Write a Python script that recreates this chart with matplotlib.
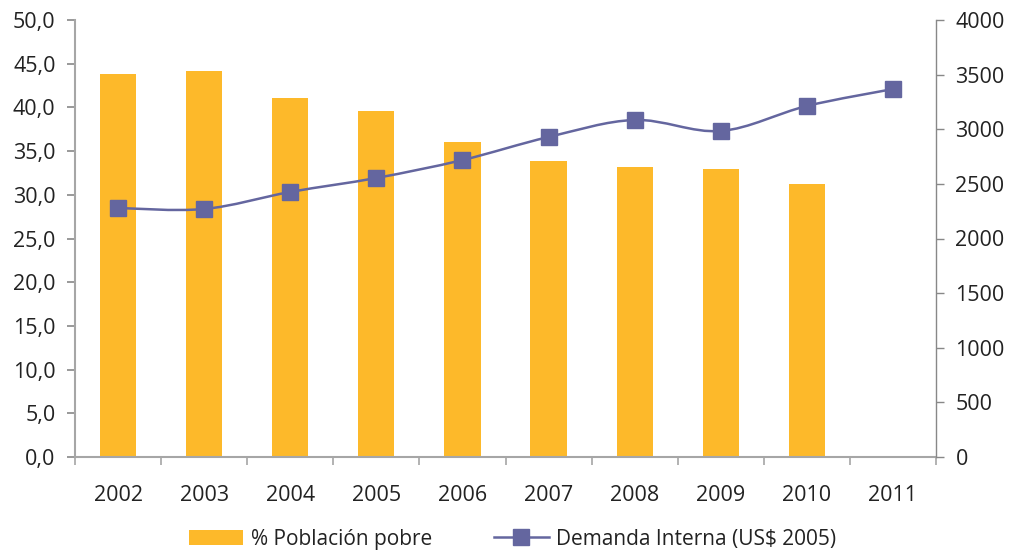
import matplotlib
matplotlib.use("Agg")
import matplotlib.pyplot as plt
from matplotlib.path import Path
from matplotlib.patches import PathPatch
from matplotlib.lines import Line2D
from matplotlib.patches import Patch
import numpy as np

years = ["2002", "2003", "2004", "2005", "2006", "2007", "2008", "2009", "2010", "2011"]
pobreza = [43.8, 44.2, 41.1, 39.6, 36.0, 33.9, 33.2, 33.0, 31.2, np.nan]
demanda = [2279, 2270, 2426, 2554, 2718, 2929, 3085, 2984, 3213, 3368]

bar_color = "#FDB92A"
line_color = "#64669F"
spine_grey = "#A6A6A6"

plt.rcParams["font.family"] = ["Open Sans", "DejaVu Sans"]

fig = plt.figure(figsize=(10.09, 5.54), dpi=100)
ax = fig.add_axes([75 / 1009, 97 / 554, 861 / 1009, 437 / 554])
ax2 = ax.twinx()

x = np.arange(len(years))
ax.bar(x, pobreza, width=0.42, color=bar_color, zorder=2)

# smoothed line (catmull-rom as bezier segments), like excel "smooth line"
y = np.array(demanda, dtype=float)
verts = [(x[0], y[0])]
codes = [Path.MOVETO]
n = len(x)
for i in range(n - 1):
    x0, y0 = (x[i - 1], y[i - 1]) if i > 0 else (x[i], y[i])
    x3, y3 = (x[i + 2], y[i + 2]) if i + 2 < n else (x[i + 1], y[i + 1])
    c1 = (x[i] + (x[i + 1] - x0) / 6, y[i] + (y[i + 1] - y0) / 6)
    c2 = (x[i + 1] - (x3 - x[i]) / 6, y[i + 1] - (y3 - y[i]) / 6)
    verts += [c1, c2, (x[i + 1], y[i + 1])]
    codes += [Path.CURVE4] * 3
ax2.add_patch(PathPatch(Path(verts, codes), fill=False, edgecolor=line_color,
                        lw=1.8, zorder=3))
ax2.plot(x, y, ls="none", marker="s", ms=12, color=line_color, zorder=4)

ax.set_xlim(-0.5, len(years) - 0.5)
ax.set_ylim(0, 50)
ax2.set_ylim(0, 4000)

ax.set_yticks(np.arange(0, 50.1, 5))
ax.set_yticklabels([f"{v:.1f}".replace(".", ",") for v in np.arange(0, 50.1, 5)])
ax2.set_yticks(np.arange(0, 4001, 500))

fs = 15.5
ax.set_xticks(x)
ax.set_xticklabels(years)
ax.set_xticks(np.arange(-0.5, len(years), 1), minor=True)
ax.tick_params(axis="x", which="major", length=0, pad=20, labelsize=fs, colors="#222222")
ax.tick_params(axis="x", which="minor", length=6, color=spine_grey, width=1.2)
ax.tick_params(axis="y", length=6, color="#888888", width=1.2, labelsize=fs,
               labelcolor="#222222", pad=8)
ax2.tick_params(axis="y", length=6, color="#888888", width=1.0, labelsize=fs,
                labelcolor="#222222", pad=8)

for a in (ax, ax2):
    a.spines["top"].set_visible(False)
ax.spines["right"].set_visible(False)
ax2.spines["left"].set_visible(False)
ax2.spines["bottom"].set_visible(False)
ax.spines["left"].set_color(spine_grey)
ax.spines["left"].set_linewidth(1.5)
ax.spines["bottom"].set_color(spine_grey)
ax.spines["bottom"].set_linewidth(1.5)
ax2.spines["right"].set_color("#888888")
ax2.spines["right"].set_linewidth(1.0)

handles = [Patch(facecolor=bar_color),
           Line2D([], [], color=line_color, marker="s", ms=12, lw=1.8)]
labels = ["% Población pobre", "Demanda Interna (US$ 2005)"]
fig.legend(handles, labels, loc="center", bbox_to_anchor=(0.508, 0.027), ncol=2,
           frameon=False, fontsize=15, columnspacing=3.0, handlelength=2.6,
           handletextpad=0.35, labelcolor="#222222")

fig.savefig("out.png", dpi=100)
